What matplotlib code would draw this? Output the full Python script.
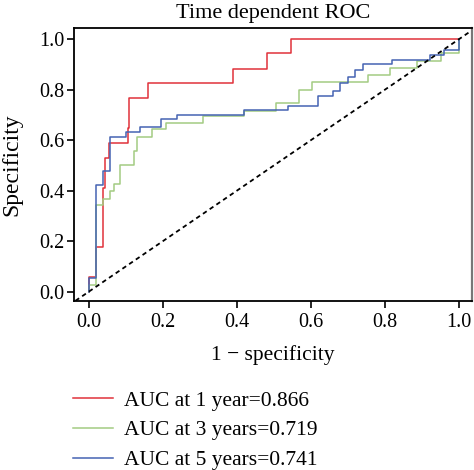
import matplotlib
matplotlib.use("Agg")
import matplotlib.pyplot as plt

plt.rcParams['font.family'] = ['Liberation Serif', 'DejaVu Serif']

red_x = [0, 0, 0.019, 0.039, 0.045, 0.055, 0.105, 0.109, 0.159, 0.39, 0.48, 0.545, 1.0]
red_y = [0, 0.06, 0.175, 0.41, 0.53, 0.588, 0.647, 0.765, 0.825, 0.88, 0.943, 1.0, 1.0]

green_x = [0, 0, 0.019, 0.039, 0.057, 0.068, 0.084, 0.122, 0.131, 0.172, 0.208, 0.309,
           0.42, 0.505, 0.568, 0.602, 0.753, 0.813, 0.886, 0.951, 1.0]
green_y = [0, 0.028, 0.344, 0.368, 0.40, 0.426, 0.502, 0.555, 0.614, 0.643, 0.669, 0.696,
           0.717, 0.746, 0.80, 0.831, 0.858, 0.884, 0.914, 0.943, 1.0]

blue_x = [0, 0, 0.019, 0.039, 0.057, 0.10, 0.138, 0.196, 0.239, 0.419, 0.539, 0.62, 0.659,
          0.678, 0.699, 0.719, 0.741, 0.818, 0.922, 0.96, 1.0]
blue_y = [0, 0.054, 0.423, 0.476, 0.614, 0.631, 0.651, 0.682, 0.70, 0.719, 0.735, 0.776, 0.796,
          0.827, 0.851, 0.877, 0.90, 0.917, 0.937, 0.957, 1.0]

labels = ["AUC at 1 year=0.866", "AUC at 3 years=0.719", "AUC at 5 years=0.741"]
colors = ["#E0313B", "#A3CC82", "#4563B3"]
ticks = [0.0, 0.2, 0.4, 0.6, 0.8, 1.0]

fig = plt.figure(figsize=(4.74, 4.70), dpi=100)
ax = fig.add_axes([0.156, 0.36, 0.84, 0.58])

lines = []
for xs, ys, c, lab in zip([red_x, green_x, blue_x], [red_y, green_y, blue_y], colors, labels):
    l, = ax.step(xs, ys, where='post', color=c, lw=1.1, label=lab)
    lines.append(l)

ax.axline((0, 0), slope=1, color='black', lw=1.3, ls=(0, (2.5, 2)))

ax.set_xlim(-0.04, 1.035)
ax.set_ylim(-0.036, 1.043)
ax.set_xticks(ticks)
ax.set_yticks(ticks)
ax.set_xticklabels([f"{t:.1f}" for t in ticks], fontsize=14.5)
ax.set_yticklabels([f"{t:.1f}" for t in ticks], fontsize=14.5)
ax.tick_params(direction='out', length=5, width=1.2, color='black')
ax.tick_params(axis='x', pad=3.5)
ax.tick_params(axis='y', pad=2)
for s in ['left', 'bottom', 'top']:
    ax.spines[s].set_linewidth(1.3)
    ax.spines[s].set_color('black')
ax.spines['right'].set_linewidth(1.6)
ax.spines['right'].set_color('#777777')

ax.set_title("Time dependent ROC", fontsize=16, pad=7)
ax.set_xlabel("1 \u2212 specificity", fontsize=15.5)
ax.set_ylabel("Specificity", fontsize=17)
ax.xaxis.set_label_coords(0.5, -0.163)
ax.yaxis.set_label_coords(-0.13, 0.5)

fig.legend(handles=lines, labels=labels, loc='upper left',
           bbox_to_anchor=(0.154, 0.169), frameon=False, fontsize=15.5,
           handlelength=1.85, handletextpad=0.5, labelspacing=0.45,
           borderaxespad=0, borderpad=0)

fig.savefig("out.png", dpi=100)
